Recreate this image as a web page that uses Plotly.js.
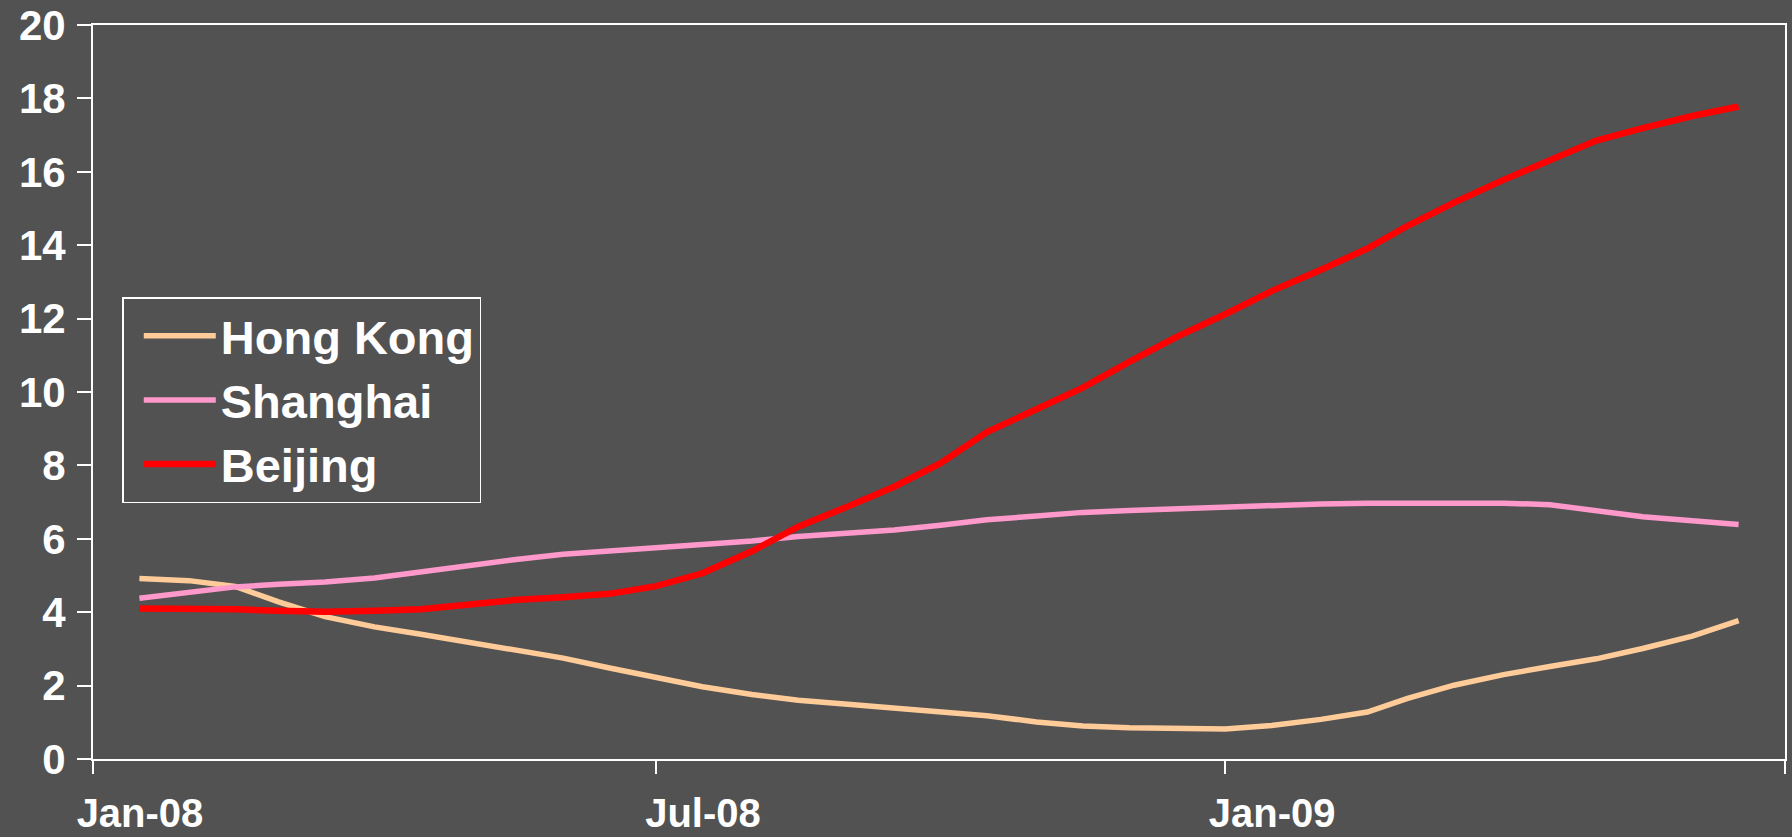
<!DOCTYPE html>
<html>
<head>
<meta charset="utf-8">
<script src="https://cdn.plot.ly/plotly-3.0.1.min.js"></script>
<style>
html,body{margin:0;padding:0;background:#525252;}
#chart{width:1792px;height:837px;}
</style>
</head>
<body>
<div id="chart"></div>
<script>
// Observation dates (1st and mid-month)
const dates = [
  "2008-01-16","2008-02-01","2008-02-16","2008-03-01","2008-03-16","2008-04-01","2008-04-16",
  "2008-05-01","2008-05-16","2008-06-01","2008-06-16","2008-07-01","2008-07-16","2008-08-01",
  "2008-08-16","2008-09-01","2008-09-16","2008-10-01","2008-10-16","2008-11-01","2008-11-16",
  "2008-12-01","2008-12-16","2009-01-01","2009-01-16","2009-02-01","2009-02-16","2009-03-01",
  "2009-03-16","2009-04-01","2009-04-16","2009-05-01","2009-05-16","2009-06-01","2009-06-16"
];

const hongKong = [
  4.92, 4.86, 4.70, 4.28, 3.88, 3.60, 3.40, 3.20, 2.99, 2.75, 2.48, 2.21, 1.97, 1.76,
  1.60, 1.49, 1.39, 1.29, 1.18, 1.01, 0.90, 0.85, 0.82, 0.82, 0.91, 1.08, 1.28, 1.65,
  2.01, 2.30, 2.52, 2.73, 3.01, 3.35, 3.77
];

const shanghai = [
  4.38, 4.54, 4.69, 4.76, 4.82, 4.93, 5.10, 5.27, 5.43, 5.58, 5.66, 5.74, 5.82, 5.94,
  6.06, 6.15, 6.24, 6.37, 6.52, 6.62, 6.72, 6.77, 6.82, 6.87, 6.93, 6.95, 6.97, 6.97,
  6.97, 6.97, 6.93, 6.77, 6.60, 6.49, 6.39
];

const beijing = [
  4.10, 4.10, 4.08, 4.04, 4.01, 4.04, 4.08, 4.20, 4.33, 4.41, 4.50, 4.71, 5.06, 5.66,
  6.33, 6.88, 7.42, 8.06, 8.91, 9.53, 10.12, 10.82, 11.49, 12.12, 12.75, 13.33, 13.91, 14.53,
  15.16, 15.78, 16.32, 16.85, 17.19, 17.52, 17.78
];

const seriesNames = ["Hong Kong", "Shanghai", "Beijing"];
const xTickVals = ["2008-01-01", "2008-07-01", "2009-01-01", "2009-07-01"];
const xTickText = ["Jan-08", "Jul-08", "Jan-09", ""];
const yTickVals = [0, 2, 4, 6, 8, 10, 12, 14, 16, 18, 20];

const BG = "#525252";
const FONT = "Liberation Sans, Arial, sans-serif";

const traces = [
  {x: dates, y: hongKong, name: seriesNames[0], type: "scatter", mode: "lines",
   line: {color: "#FFCC99", width: 5.5}},
  {x: dates, y: shanghai, name: seriesNames[1], type: "scatter", mode: "lines",
   line: {color: "#FF99CC", width: 5.5}},
  {x: dates, y: beijing, name: seriesNames[2], type: "scatter", mode: "lines",
   line: {color: "#FF0000", width: 6.5}}
];

const layout = {
  width: 1792, height: 837,
  paper_bgcolor: BG, plot_bgcolor: BG,
  margin: {l: 93, r: 7, t: 25, b: 78},
  showlegend: true,
  legend: {
    x: 0.0173, y: 0.629, xanchor: "left", yanchor: "top",
    bgcolor: BG, bordercolor: "#FFFFFF", borderwidth: 1.5,
    font: {family: FONT, size: 47, color: "#FFFFFF", weight: "bold"},
    itemwidth: 72, indentation: 15
  },
  xaxis: {
    type: "date",
    range: ["2008-01-01", "2009-07-01"],
    tickmode: "array", tickvals: xTickVals, ticktext: xTickText,
    ticks: "outside", ticklen: 13, tickwidth: 2, tickcolor: "#FFFFFF",
    ticklabelshift: 47, ticklabelstandoff: 5, ticklabeloverflow: "allow",
    showline: true, linecolor: "#FFFFFF", linewidth: 2, mirror: true,
    showgrid: false, zeroline: false,
    tickfont: {family: FONT, size: 40, color: "#FFFFFF", weight: "bold"}
  },
  yaxis: {
    range: [0, 20],
    tickmode: "array", tickvals: yTickVals,
    ticks: "outside", ticklen: 14, tickwidth: 2, tickcolor: "#FFFFFF",
    ticklabelstandoff: 3, ticklabeloverflow: "allow",
    showline: true, linecolor: "#FFFFFF", linewidth: 2, mirror: true,
    showgrid: false, zeroline: false,
    tickfont: {family: FONT, size: 42, color: "#FFFFFF", weight: "bold"}
  }
};

Plotly.newPlot("chart", traces, layout, {displayModeBar: false, staticPlot: true});
</script>
</body>
</html>
